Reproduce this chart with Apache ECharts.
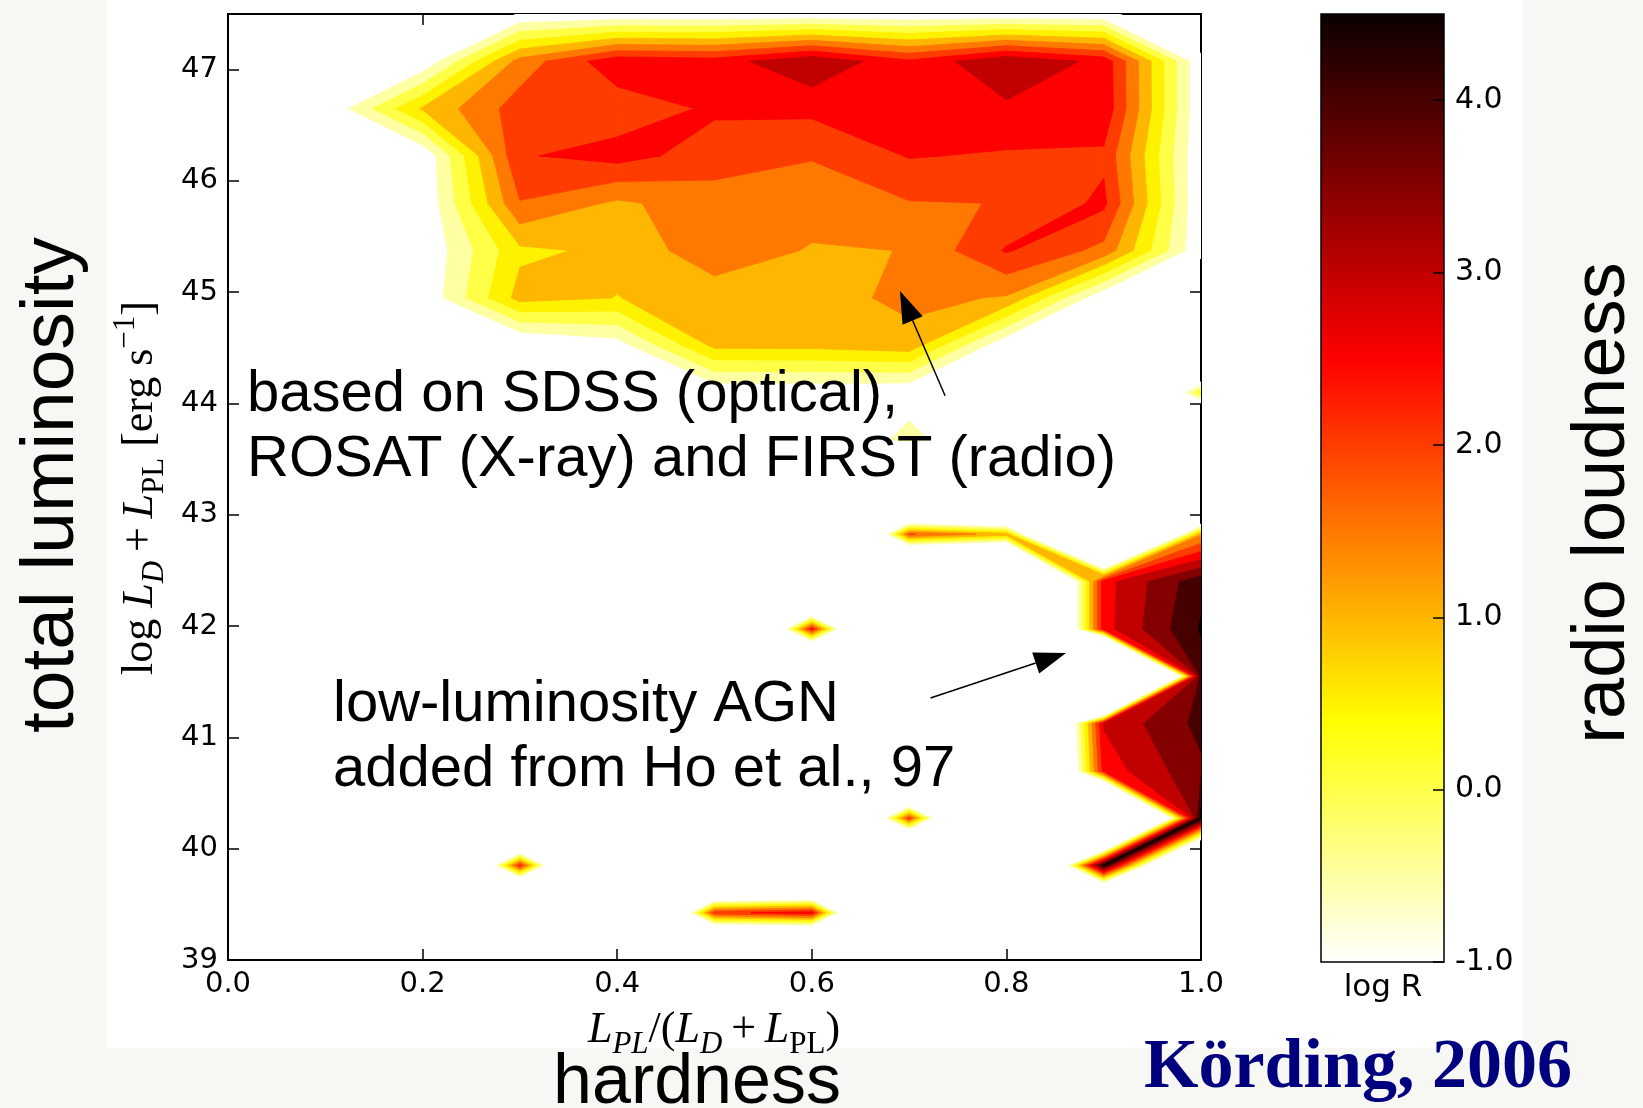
<!DOCTYPE html>
<html>
<head>
<meta charset="utf-8">
<title>Radio loudness of AGN vs hardness and total luminosity</title>
<script src="https://cdn.jsdelivr.net/npm/echarts@6.0.0/dist/echarts.min.js"></script>
<style>
  html, body { margin: 0; padding: 0; background: #f7f7f4; }
  #sheet { position: absolute; left: 107px; top: 0; width: 1415px; height: 1048px; background: #fff; }
  #chart { position: absolute; left: 0; top: 0; width: 1643px; height: 1108px; }
</style>
</head>
<body>
<div id="sheet"></div>
<div id="chart"></div>
<script>
// ------------------------------------------------------------
// data : grid nodes (hardness x total luminosity) and log R
// ------------------------------------------------------------
var hardness = [0.0, 0.1, 0.2, 0.3, 0.4, 0.5, 0.6, 0.7, 0.8, 0.9, 1.0];
var luminosity = [39.0, 39.425, 39.85, 40.275, 40.7, 41.125, 41.55, 41.975, 42.4, 42.825,
  43.25, 43.675, 44.1, 44.525, 44.95, 45.375, 45.8, 46.225, 46.65, 47.075, 47.5];

// log R at each node, one row per luminosity bin, lowest bin first
var logR = [
  [-10, -10, -10, -10, -10, -10, -10, -10, -10, -10, -10],
  [-10, -10, -10, -10, -10, 2.1, 2.5, -10, -10, -10, -10],
  [-10, -10, -10, 2.2, -10, -10, -10, -10, -10, 4.4, -8],
  [-10, -10, -10, -10, -10, -10, -10, 2.0, -10, -13, 4.4],
  [-10, -10, -10, -10, -10, -10, -10, -10, -10, 2.45, 3.65],
  [-10, -10, -10, -10, -10, -10, -10, -10, -10, 2.8, 3.9],
  [-10, -10, -10, -10, -10, -10, -10, -10, -10, -20, 4.0],
  [-10, -10, -10, -10, -10, -10, 2.4, -10, -10, 2.55, 4.3],
  [-10, -10, -10, -10, -10, -10, -10, -10, -10, 2.55, 4.1],
  [-10, -10, -10, -10, -10, -10, -10, 1.8, 1.0, -10, 1.2],
  [-10, -10, -10, -10, -10, -10, -10, -10, -10, -10, -10],
  [-10, -10, -10, -10, -10, -10, -2, -0.45, -2, -10, -6.6],
  [-1.5, -1.5, -1.5, -1.5, -1.5, -1.16, -1.15, -1.2, -1.5, -6.6, 0.3],
  [-1.3, -1.3, -1.3, -1.4, -1.0, 0.89, 0.9, 1.05, -1.2, -1.3, -6.6],
  [-1.3, -1.3, -1.2, 0.94, 0.74, 0.95, 1.0, 1.4, 1.2, -1.2, -1.5],
  [-1.3, -1.3, -1.23, 0.646, 0.85, 1.6, 1.2, 1.26, 2.3, 1.6, -1.2],
  [-1.3, -1.3, -1.23, 1.72, 1.16, 1.51, 1.5, 1.72, 1.76, 2.36, -1.24],
  [-1.3, -1.3, -1.22, 2.2, 2.45, 2.0, 1.78, 2.28, 2.19, 2.15, -1.22],
  [-1.3, -1.23, 0.81, 2.0, 1.95, 2.33, 2.38, 2.5, 2.65, 2.63, -1.2],
  [-1.3, -1.3, -1.2, 1.45, 2.6, 2.5, 3.2, 2.35, 3.2, 2.6, -1.2],
  [-1.3, -1.3, -1.5, -1.24, -1.2, -1.2, -1.2, -1.2, -1.2, -1.2, -1.5]
];

// contour levels (lower edge of each filled band) and colour bar range
var levels = [-1.25, -0.75, -0.25, 0.25, 0.75, 1.25, 1.75, 2.25, 2.75, 3.25, 3.75, 4.25];
var cbarRange = [-1.0, 4.5];

// annotation arrows, in data units
var arrows = [
  { tail: [0.737, 44.07], tip: [0.6906, 45.01] },
  { tail: [0.722, 41.354], tip: [0.8613, 41.759] }
];

// ------------------------------------------------------------
// colour map (hot, reversed)
// ------------------------------------------------------------
function hotR(t) {
  var s = 1 - t;
  var r = s < 0.365079 ? 0.0416 + (1 - 0.0416) * s / 0.365079 : 1;
  var g = s < 0.365079 ? 0 : (s < 0.746032 ? (s - 0.365079) / (0.746032 - 0.365079) : 1);
  var b = s < 0.746032 ? 0 : (s - 0.746032) / (1 - 0.746032);
  return 'rgb(' + Math.round(r * 255) + ',' + Math.round(g * 255) + ',' + Math.round(b * 255) + ')';
}
function cnorm(v) {
  return (v - cbarRange[0]) / (cbarRange[1] - cbarRange[0]);
}
// each band is painted with the colour of its centre value
var bandColors = levels.map(function (lev) { return hotR(cnorm(lev + 0.25)); });
var cbarStops = [0, 0.253968, 0.634921, 1].map(function (t) {
  return { offset: t, color: hotR(t) };
});

// part of a cell where the value is >= level (linear along the edges)
function clipAbove(pts, level) {
  var out = [];
  for (var n = 0; n < pts.length; n++) {
    var a = pts[n], b = pts[(n + 1) % pts.length];
    var ain = a[2] >= level, bin = b[2] >= level;
    if (ain) out.push(a);
    if (ain !== bin) {
      var t = (level - a[2]) / (b[2] - a[2]);
      out.push([a[0] + t * (b[0] - a[0]), a[1] + t * (b[1] - a[1]), level]);
    }
  }
  return out;
}

function renderLevel(params, api) {
  var k = api.value(2);
  var lev = levels[k];
  var color = bandColors[k];
  var children = [];
  for (var j = 0; j < luminosity.length - 1; j++) {
    for (var i = 0; i < hardness.length - 1; i++) {
      var quad = [
        [hardness[i], luminosity[j], logR[j][i]],
        [hardness[i + 1], luminosity[j], logR[j][i + 1]],
        [hardness[i + 1], luminosity[j + 1], logR[j + 1][i + 1]],
        [hardness[i], luminosity[j + 1], logR[j + 1][i]]
      ];
      if (quad[0][2] < lev && quad[1][2] < lev && quad[2][2] < lev && quad[3][2] < lev) continue;
      var poly = clipAbove(quad, lev);
      if (poly.length < 3) continue;
      children.push({
        type: 'polygon',
        shape: { points: poly.map(function (p) { return api.coord([p[0], p[1]]); }) },
        style: { fill: color, stroke: color, lineWidth: 0.8 }
      });
    }
  }
  return { type: 'group', children: children };
}

function renderColorbar(params, api) {
  var p0 = api.coord([api.value(0), api.value(1)]);
  var p1 = api.coord([api.value(2), api.value(3)]);
  var shape = { x: p0[0], y: p1[1], width: p1[0] - p0[0], height: p0[1] - p1[1] };
  return {
    type: 'group',
    children: [
      { type: 'rect', shape: shape, style: { fill: new echarts.graphic.LinearGradient(0, 1, 0, 0, cbarStops) } },
      { type: 'rect', shape: shape, style: { fill: 'none', stroke: '#000', lineWidth: 1.5 } }
    ]
  };
}

// ------------------------------------------------------------
// chart
// ------------------------------------------------------------
var tickFont = 'DejaVu Sans';
var sans = '"Liberation Sans", Arial, sans-serif';
var serif = '"Liberation Serif", "DejaVu Serif", serif';

var insideTick = { inside: true, length: 11, lineStyle: { color: '#000', width: 1.5 } };
var noLine = { show: false, onZero: false };

var chart = echarts.init(document.getElementById('chart'), null, { renderer: 'canvas' });

chart.setOption({
  animation: false,
  backgroundColor: 'transparent',
  grid: [
    { left: 228, top: 14, width: 973, height: 946, show: true, borderColor: '#000', borderWidth: 2,
      backgroundColor: '#fff', outerBoundsMode: 'none' },
    { left: 1321, top: 14, width: 123, height: 948, outerBoundsMode: 'none' }
  ],
  xAxis: [
    { gridIndex: 0, type: 'value', min: 0, max: 1, interval: 0.2, position: 'bottom',
      axisLine: noLine, axisTick: insideTick, splitLine: { show: false },
      axisLabel: { formatter: function (v) { return v.toFixed(1); }, fontSize: 29, fontFamily: tickFont, color: '#000', margin: 10 } },
    { gridIndex: 0, type: 'value', min: 0, max: 1, interval: 0.2, position: 'top',
      axisLine: noLine, axisTick: insideTick, splitLine: { show: false }, axisLabel: { show: false } },
    { gridIndex: 1, type: 'value', min: 0, max: 1, show: false, axisLine: noLine }
  ],
  yAxis: [
    { gridIndex: 0, type: 'value', min: 39, max: 47.5, interval: 1, position: 'left',
      axisLine: noLine, axisTick: insideTick, splitLine: { show: false },
      axisLabel: { fontSize: 29, fontFamily: tickFont, color: '#000', margin: 10, showMaxLabel: false } },
    { gridIndex: 0, type: 'value', min: 39, max: 47.5, interval: 1, position: 'right',
      axisLine: noLine, axisTick: insideTick, splitLine: { show: false }, axisLabel: { show: false } },
    { gridIndex: 1, type: 'value', min: cbarRange[0], max: cbarRange[1], interval: 1, position: 'right', z: 5,
      axisLine: noLine, axisTick: insideTick, splitLine: { show: false },
      axisLabel: { formatter: function (v) { return v.toFixed(1); }, fontSize: 30, fontFamily: tickFont, color: '#000', margin: 11, showMaxLabel: false } }
  ],
  series: [
    { type: 'custom', name: 'log R', xAxisIndex: 0, yAxisIndex: 0, silent: true, clip: true,
      data: levels.map(function (lev, k) { return [0.5, 43, k]; }),
      renderItem: renderLevel },
    { type: 'custom', name: 'colour bar', xAxisIndex: 2, yAxisIndex: 2, silent: true, z: 2,
      data: [[0, cbarRange[0], 1, cbarRange[1]]],
      renderItem: renderColorbar }
  ]
});

// texts and arrows, placed after the grid exists
function txt(id, text, x, y, font, opts) {
  opts = opts || {};
  return {
    type: 'text', id: id, x: x, y: y, z: 20, rotation: opts.rotation || 0, silent: true,
    style: {
      text: text, font: font, fill: opts.fill || '#000', rich: opts.rich,
      align: opts.align || 'center', textAlign: opts.align || 'center',
      verticalAlign: 'middle', textVerticalAlign: 'middle'
    }
  };
}

var mathRich = {
  n: { fontFamily: serif, fontSize: 44, lineHeight: 60, verticalAlign: 'middle' },
  i: { fontFamily: serif, fontSize: 44, fontStyle: 'italic', lineHeight: 60, verticalAlign: 'middle' },
  sb: { fontFamily: serif, fontSize: 31, lineHeight: 60, verticalAlign: 'bottom' },
  sbi: { fontFamily: serif, fontSize: 31, fontStyle: 'italic', lineHeight: 60, verticalAlign: 'bottom' },
  sp: { fontFamily: serif, fontSize: 31, lineHeight: 60, verticalAlign: 'top' }
};

var graphics = [
  txt('ylab', 'total luminosity', 52, 485, '75px ' + sans, { rotation: Math.PI / 2 }),
  txt('ymath', '{n|log }{i|L}{sbi|D}{n|\u2009+\u2009}{i|L}{sb|PL}{n| [erg s}{sp|\u22121}{n|]}', 140, 488, '44px ' + serif,
    { rotation: Math.PI / 2, rich: mathRich }),
  txt('xmath', '{i|L}{sbi|PL}{n|/(}{i|L}{sbi|D}{n|\u2009+\u2009}{i|L}{sb|PL}{n|)}', 714, 1030, '44px ' + serif, { rich: mathRich }),
  txt('xlab', 'hardness', 697, 1084, '70px ' + sans),
  txt('cblab', 'radio loudness', 1604, 503, '74px ' + sans, { rotation: Math.PI / 2 }),
  txt('cbunit', 'log R', 1383, 988, '31px "DejaVu Sans"'),
  txt('cite', 'K\u00f6rding, 2006', 1358, 1069, 'bold 70px ' + serif, { fill: '#00007f' }),
  txt('ann1a', 'based on SDSS (optical),', 247, 395, '58px ' + sans, { align: 'left' }),
  txt('ann1b', 'ROSAT (X-ray) and FIRST (radio)', 247, 460, '58px ' + sans, { align: 'left' }),
  txt('ann2a', 'low-luminosity AGN', 333, 705, '58px ' + sans, { align: 'left' }),
  txt('ann2b', 'added from Ho et al., 97', 333, 770, '58px ' + sans, { align: 'left' })
];

arrows.forEach(function (a, n) {
  var p0 = chart.convertToPixel({ gridIndex: 0 }, a.tail);
  var p1 = chart.convertToPixel({ gridIndex: 0 }, a.tip);
  var dx = p1[0] - p0[0], dy = p1[1] - p0[1];
  var len = Math.sqrt(dx * dx + dy * dy);
  var ux = dx / len, uy = dy / len;
  var headLen = 32, halfW = 11;
  var bx = p1[0] - ux * headLen, by = p1[1] - uy * headLen;
  graphics.push({
    type: 'line', id: 'arrowLine' + n, z: 20, silent: true,
    shape: { x1: p0[0], y1: p0[1], x2: bx, y2: by },
    style: { stroke: '#000', lineWidth: 1.5 }
  });
  graphics.push({
    type: 'polygon', id: 'arrowHead' + n, z: 20, silent: true,
    shape: { points: [[p1[0], p1[1]], [bx - uy * halfW, by + ux * halfW], [bx + uy * halfW, by - ux * halfW]] },
    style: { fill: '#000' }
  });
});

chart.setOption({ graphic: graphics });
</script>
</body>
</html>
